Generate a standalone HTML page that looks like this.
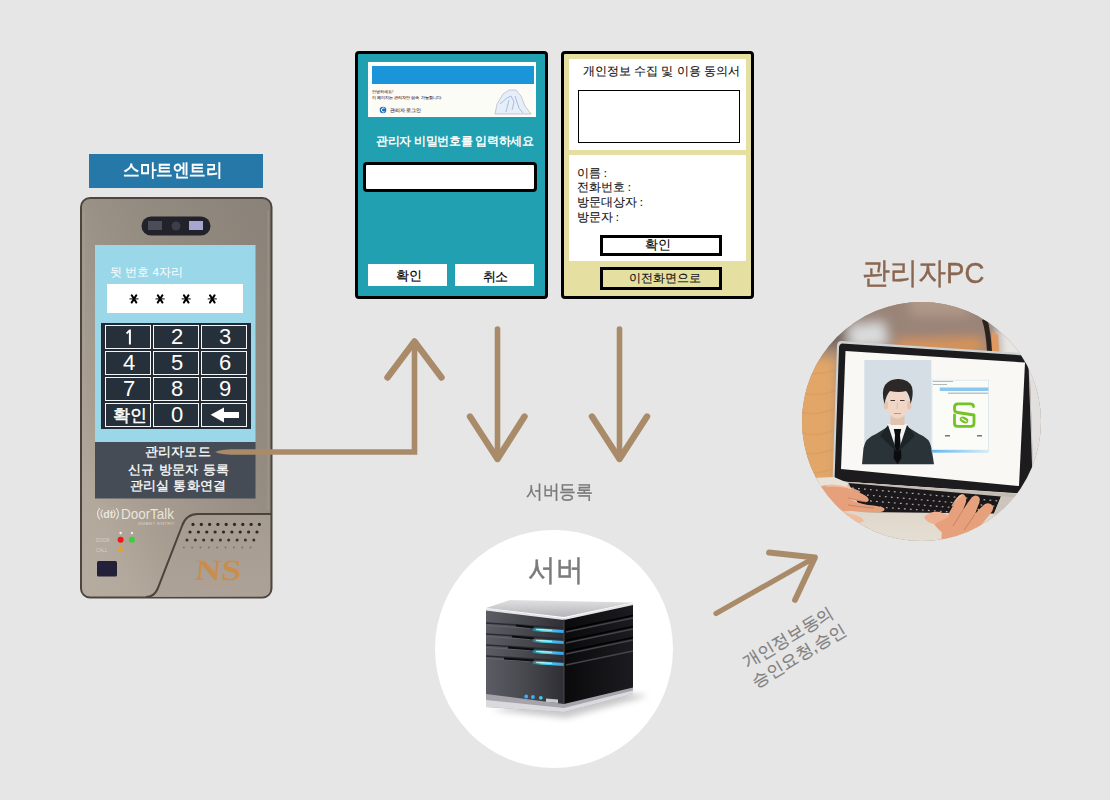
<!DOCTYPE html>
<html><head><meta charset="utf-8">
<style>
*{margin:0;padding:0;box-sizing:border-box}
html,body{width:1110px;height:800px;overflow:hidden;background:#e6e6e6;font-family:"Liberation Sans",sans-serif}
.a{position:absolute}
.t{position:absolute;white-space:nowrap;line-height:1}
.kb{position:absolute;width:46px;height:24px;border:1.5px solid #f4f6f6;background:#26303a;color:#fff;font-size:22px;text-align:center;line-height:22px;padding-left:2px}
</style></head><body>

<!-- label -->
<div class="a" style="left:89px;top:154px;width:174px;height:34px;background:#2578a7"></div>
<div class="t" style="left:122.5px;top:162.3px;font-size:17.5px;font-weight:bold;transform:scaleX(0.919);transform-origin:0 0;color:#fff">스마트엔트리</div>

<!-- device body -->
<svg class="a" style="left:0;top:0" width="300" height="620">
  <defs>
    <linearGradient id="dev" x1="1" y1="0" x2="0" y2="1">
      <stop offset="0" stop-color="#8a8278"/>
      <stop offset="0.37" stop-color="#948b81"/>
      <stop offset="0.73" stop-color="#a89e92"/>
      <stop offset="0.85" stop-color="#b2a89b"/>
      <stop offset="1" stop-color="#b6aca0"/>
    </linearGradient>
    <linearGradient id="devr" x1="0" y1="0" x2="0" y2="1">
      <stop offset="0" stop-color="#a59b90"/>
      <stop offset="1" stop-color="#aca297"/>
    </linearGradient>
  </defs>
  <rect x="81" y="198" width="190.5" height="399.5" rx="9" fill="url(#dev)" stroke="#4d463f" stroke-width="2"/>
  <path d="M84,210 L84,590 M268,210 L268,510" stroke="#b0a69a" stroke-width="1" opacity="0.5"/>
  <path d="M146,597 Q154,597 157.5,589 L182,526 Q186,514 198,514 L270,514 L270,588 Q270,596.5 262,596.5 Z" fill="url(#devr)"/>
  <path d="M146,597 Q154,597 157.5,589 L182,526 Q186,514 198,514 L271,514" fill="none" stroke="#4a423b" stroke-width="2"/>
  <!-- camera -->
  <rect x="141.5" y="216.5" width="69" height="19" rx="9.5" fill="#22222a"/>
  <rect x="148" y="221" width="14" height="9" fill="#4a4c5a"/>
  <circle cx="176" cy="226" r="4.5" fill="#3c3e48"/>
  <rect x="189" y="221" width="14" height="9" fill="#a8a6d0"/>
  <!-- screen -->
  <rect x="95" y="245" width="160.5" height="197" fill="#9ad7e8"/>
  <rect x="107" y="284" width="136" height="29" fill="#fff"/>
  <rect x="101" y="323" width="150" height="106" fill="#222b35"/>
  <rect x="95" y="442" width="160.5" height="56.5" fill="#454c55"/>
  <!-- speaker dots -->
  <g>
<circle cx="193.0" cy="524.4" r="1.6" fill="#2e2822"/><circle cx="201.3" cy="524.4" r="1.6" fill="#2e2822"/><circle cx="209.6" cy="524.4" r="1.6" fill="#2e2822"/><circle cx="217.9" cy="524.4" r="1.6" fill="#2e2822"/><circle cx="226.2" cy="524.4" r="1.6" fill="#2e2822"/><circle cx="234.5" cy="524.4" r="1.6" fill="#2e2822"/><circle cx="242.8" cy="524.4" r="1.6" fill="#2e2822"/><circle cx="251.1" cy="524.4" r="1.6" fill="#2e2822"/><circle cx="259.4" cy="524.4" r="1.6" fill="#2e2822"/>
<circle cx="190.0" cy="532" r="1.6" fill="#2e2822"/><circle cx="198.4" cy="532" r="1.6" fill="#2e2822"/><circle cx="206.8" cy="532" r="1.6" fill="#2e2822"/><circle cx="215.1" cy="532" r="1.6" fill="#2e2822"/><circle cx="223.5" cy="532" r="1.6" fill="#2e2822"/><circle cx="231.9" cy="532" r="1.6" fill="#2e2822"/><circle cx="240.2" cy="532" r="1.6" fill="#2e2822"/><circle cx="248.6" cy="532" r="1.6" fill="#2e2822"/><circle cx="257.0" cy="532" r="1.6" fill="#2e2822"/>
<circle cx="187.0" cy="540" r="1.5" fill="#3a332c"/><circle cx="195.3" cy="540" r="1.5" fill="#3a332c"/><circle cx="203.7" cy="540" r="1.5" fill="#3a332c"/><circle cx="212.0" cy="540" r="1.5" fill="#3a332c"/><circle cx="220.4" cy="540" r="1.5" fill="#3a332c"/><circle cx="228.7" cy="540" r="1.5" fill="#3a332c"/><circle cx="237.1" cy="540" r="1.5" fill="#3a332c"/><circle cx="245.4" cy="540" r="1.5" fill="#3a332c"/><circle cx="253.8" cy="540" r="1.5" fill="#3a332c"/>
<circle cx="183.8" cy="547.5" r="1.0" fill="#7d746a"/><circle cx="192.1" cy="547.5" r="1.0" fill="#7d746a"/><circle cx="200.5" cy="547.5" r="1.0" fill="#7d746a"/><circle cx="208.8" cy="547.5" r="1.0" fill="#7d746a"/><circle cx="217.2" cy="547.5" r="1.0" fill="#7d746a"/><circle cx="225.5" cy="547.5" r="1.0" fill="#7d746a"/><circle cx="233.9" cy="547.5" r="1.0" fill="#7d746a"/><circle cx="242.2" cy="547.5" r="1.0" fill="#7d746a"/><circle cx="250.6" cy="547.5" r="1.0" fill="#7d746a"/>
  </g>
  <!-- LEDs -->
  <circle cx="120.6" cy="533" r="1.2" fill="#eee"/>
  <circle cx="131.9" cy="533" r="1.2" fill="#eee"/>
  <circle cx="120.6" cy="539.8" r="3" fill="#f01818"/>
  <circle cx="131.9" cy="539.8" r="3" fill="#3ad03a"/>
  <path d="M120.6,545.5 L124,552 L117.2,552 Z" fill="#e8a030"/>
  <text x="96" y="542" font-size="4.5" fill="#d8d0c8" font-family="Liberation Sans">DOOR</text>
  <text x="96" y="552" font-size="4.5" fill="#d8d0c8" font-family="Liberation Sans">CALL</text>
  <rect x="97" y="561" width="20" height="15.5" rx="1.5" fill="#23213a"/>
  <!-- DoorTalk logo -->
  <g fill="none" stroke="#ebe5dc" stroke-width="1.1" stroke-linecap="round">
    <path d="M99.5,508.5 Q95.5,513.7 99.5,519"/>
    <path d="M102.5,510 Q99.5,513.7 102.5,517.5"/>
    <path d="M116.5,508.5 Q120.5,513.7 116.5,519"/>
    <path d="M113.5,510 Q116.5,513.7 113.5,517.5"/>
  </g>
  <text x="103.3" y="518" font-size="11" fill="#ebe5dc" font-family="Liberation Sans" font-weight="bold" textLength="10" lengthAdjust="spacingAndGlyphs">dt</text>
  <text x="121" y="519.3" font-size="14.5" fill="#ebe5dc" font-family="Liberation Sans" textLength="53" lengthAdjust="spacingAndGlyphs">DoorTalk</text>
  <text x="137.5" y="525" font-size="4.2" fill="#d4ccc2" font-family="Liberation Sans" textLength="37" lengthAdjust="spacingAndGlyphs">SMART ENTRY</text>
  <!-- NS logo -->
  <text x="194" y="579.6" font-size="29.5" font-weight="bold" fill="#c98e4e" font-family="Liberation Serif" textLength="46" lengthAdjust="spacingAndGlyphs" transform="skewX(-6) translate(61.5 0)">NS</text>
  <rect x="199" y="583" width="36" height="1.5" fill="#d09a60" opacity="0.7"/>
  <rect x="200" y="586.5" width="34" height="1" fill="#a8a8a8" opacity="0.5"/>
</svg>

<!-- screen contents -->
<div class="t" style="left:110px;top:267px;font-size:11.5px;color:#fff">뒷 번호 4자리</div>
<svg class="a" style="left:0;top:0" width="300" height="320"><g stroke="#000" stroke-linecap="round"><path d="M130.0,298.9 L138.0,298.9" stroke-width="1.4" stroke="#333"/><path d="M131.7,295.3 L136.3,302.5 M136.3,295.3 L131.7,302.5" stroke-width="2.1"/><path d="M156.1,298.9 L164.1,298.9" stroke-width="1.4" stroke="#333"/><path d="M157.8,295.3 L162.4,302.5 M162.4,295.3 L157.8,302.5" stroke-width="2.1"/><path d="M182.2,298.9 L190.2,298.9" stroke-width="1.4" stroke="#333"/><path d="M183.9,295.3 L188.5,302.5 M188.5,295.3 L183.9,302.5" stroke-width="2.1"/><path d="M208.3,298.9 L216.3,298.9" stroke-width="1.4" stroke="#333"/><path d="M210.0,295.3 L214.6,302.5 M214.6,295.3 L210.0,302.5" stroke-width="2.1"/></g></svg>

<div class="kb" style="left:105px;top:325px"></div>
<div class="kb" style="left:153px;top:325px">2</div>
<div class="kb" style="left:201px;top:325px">3</div>
<div class="kb" style="left:105px;top:351px">4</div>
<div class="kb" style="left:153px;top:351px">5</div>
<div class="kb" style="left:201px;top:351px">6</div>
<div class="kb" style="left:105px;top:377px">7</div>
<div class="kb" style="left:153px;top:377px">8</div>
<div class="kb" style="left:201px;top:377px">9</div>
<div class="kb" style="left:105px;top:403px;font-size:17px;line-height:23px;padding-left:3px;letter-spacing:-0.5px;-webkit-text-stroke:0.5px #fff">확인</div>
<div class="kb" style="left:153px;top:403px">0</div>
<div class="kb" style="left:201px;top:403px"></div>
<svg class="a" style="left:0;top:0" width="300" height="500">
  <path d="M210.6,414.8 L224,407.4 L224,412 L239,412 L239,418 L224,418 L224,422.6 Z" fill="#fff"/>
  <path d="M126,332.8 L129.3,329.6 L130.9,329.6 L130.9,344.6 L128.9,344.6 L128.9,332.6 L127,334.2 Z" fill="#fff"/>
</svg>

<div class="t" style="left:144.9px;top:445px;font-size:13px;color:#fff;letter-spacing:0.2px;-webkit-text-stroke:0.3px #fff">관리자모드</div>
<div class="t" style="left:128.2px;top:463.3px;font-size:13px;color:#fff;letter-spacing:0.3px;-webkit-text-stroke:0.3px #fff">신규 방문자 등록</div>
<div class="t" style="left:129.5px;top:479px;font-size:13px;color:#fff;letter-spacing:0.3px;-webkit-text-stroke:0.3px #fff">관리실 통화연결</div>


<!-- teal panel -->
<div class="a" style="left:355px;top:51px;width:193px;height:248px;background:#20a0b0;border:3px solid #000;border-radius:4px"></div>
<div class="a" style="left:368px;top:62px;width:168px;height:55px;background:#fdfdfb"></div>
<div class="a" style="left:372px;top:66px;width:162px;height:18px;background:#1a95da"></div>
<svg class="a" style="left:0;top:0" width="560" height="130">
  <rect x="372" y="86" width="161" height="30" fill="#fcfcf6"/>
  <text x="372" y="92.5" font-size="4.2" fill="#6a5a68" font-family="Liberation Sans" font-weight="bold">안녕하세요!</text>
  <text x="372" y="98.5" font-size="4.2" fill="#6a4a50" font-family="Liberation Sans" font-weight="bold">이 페이지는 관리자만 접속 가능합니다.</text>
  <circle cx="383" cy="110" r="3.3" fill="#1a70c0"/>
  <path d="M384.5,108.3 A2,2 0 1 0 384.5,111.7" fill="none" stroke="#fff" stroke-width="1"/>
  <text x="389.5" y="112" font-size="5" fill="#6a4a58" font-family="Liberation Sans" font-weight="bold">관리자 로그인</text>
  <path d="M495,114 L497,104 L503,94 L509,90 L516,90 L521,96 L525,106 L531,114 Z" fill="#e6eef8" stroke="#a8a8c8" stroke-width="0.6"/>
  <path d="M500,104 L507,98 L511,96 L514,102 L512,110 M506,112 L509,100 M515,96 L519,108 L523,113" fill="none" stroke="#98b0d8" stroke-width="0.8"/>
</svg>
<div class="t" style="left:376px;top:136.2px;font-size:11.5px;font-weight:bold;letter-spacing:-0.3px;color:#fff">관리자 비밀번호를 입력하세요</div>
<div class="a" style="left:363px;top:162px;width:174px;height:29.5px;background:#fff;border:3px solid #000;border-radius:4px"></div>
<div class="a" style="left:368px;top:264px;width:79px;height:22px;background:#fff"></div>
<div class="a" style="left:455px;top:264px;width:79px;height:22px;background:#fff"></div>
<div class="t" style="left:395.5px;top:270px;font-size:12.5px;color:#000;-webkit-text-stroke:0.2px #000">확인</div>
<div class="t" style="left:482.8px;top:270.6px;font-size:12.5px;color:#000;letter-spacing:-1px;-webkit-text-stroke:0.2px #000">취소</div>

<!-- beige panel -->
<div class="a" style="left:561px;top:51px;width:193px;height:248px;background:#e5e0a2;border:3px solid #000;border-radius:4px"></div>
<div class="a" style="left:569px;top:59px;width:177px;height:91px;background:#fff"></div>
<div class="a" style="left:569px;top:155px;width:177px;height:106px;background:#fff"></div>
<div class="t" style="left:583px;top:66.2px;font-size:11.5px;color:#111;-webkit-text-stroke:0.12px #111">개인정보 수집 및 이용 동의서</div>
<div class="a" style="left:578px;top:90px;width:162px;height:53px;border:1px solid #000"></div>
<div class="t" style="left:576.5px;top:167.8px;font-size:11.5px;color:#111;-webkit-text-stroke:0.1px #111">이름 :</div>
<div class="t" style="left:576.5px;top:181.5px;font-size:11.5px;color:#111;-webkit-text-stroke:0.1px #111">전화번호 :</div>
<div class="t" style="left:576.5px;top:197.4px;font-size:11.5px;color:#111;-webkit-text-stroke:0.1px #111">방문대상자 :</div>
<div class="t" style="left:576.5px;top:212.3px;font-size:11.5px;color:#111;-webkit-text-stroke:0.1px #111">방문자 :</div>
<div class="a" style="left:600px;top:235px;width:122px;height:21px;background:#fff;border:3px solid #000"></div>
<div class="a" style="left:600px;top:267px;width:122px;height:22.5px;background:#e5e0a2;border:3px solid #000"></div>
<div class="t" style="left:645px;top:239px;font-size:12.5px;color:#000;letter-spacing:-0.5px;-webkit-text-stroke:0.12px #000">확인</div>
<div class="t" style="left:629px;top:272.5px;font-size:11.5px;color:#111;-webkit-text-stroke:0.12px #111">이전화면으로</div>

<!-- arrows -->
<svg class="a" style="left:0;top:0" width="1110" height="800">
  <path d="M215,452 Q222,449.2 232,449.2 L232,454.8 Q222,454.8 215,452 Z" fill="#a98b6a"/>
  <g fill="none" stroke="#a98b6a" stroke-width="5.6" stroke-linecap="round" stroke-linejoin="round">
    <path d="M231,452 L414.5,452 L414.5,341.5" stroke-linecap="butt" stroke-linejoin="miter"/>
    <path d="M497.5,329 L497.5,459"/>
    <path d="M619.5,329 L619.5,459"/>
  </g>
  <path d="M716,613.5 L814,558" fill="none" stroke="#a98b6a" stroke-width="5.2" stroke-linecap="round"/>
  <g fill="none" stroke="#a98b6a" stroke-width="6.4" stroke-linecap="round" stroke-linejoin="round">
    <path d="M387.5,377.5 L414.5,341.5 L441.5,377.5"/>
    <path d="M470,416.5 L497.5,459 L524.5,416.5"/>
    <path d="M592,416.5 L619.5,459 L647,416.5"/>
  </g>
  <path d="M769,552.5 L815,557.5 L795,600" fill="none" stroke="#a98b6a" stroke-width="5.8" stroke-linecap="round" stroke-linejoin="round"/>
</svg>
<div class="t" style="left:525.7px;top:482.5px;font-size:18.5px;color:#7a7a7a;-webkit-text-stroke:0.4px #7a7a7a;transform:scaleX(0.881);transform-origin:0 0">서버등록</div>

<!-- server circle -->
<div class="a" style="left:434.5px;top:530px;width:238px;height:238px;border-radius:50%;background:#fff"></div>

<svg class="a" style="left:0;top:0" width="1110" height="800">
  <defs>
    <linearGradient id="sfront" x1="0" y1="0" x2="1" y2="0">
      <stop offset="0" stop-color="#5c5c64"/>
      <stop offset="0.5" stop-color="#48484f"/>
      <stop offset="1" stop-color="#2e2e34"/>
    </linearGradient>
    <linearGradient id="sside" x1="0" y1="0" x2="1" y2="0">
      <stop offset="0" stop-color="#0a0a0c"/>
      <stop offset="1" stop-color="#1c1c20"/>
    </linearGradient>
    <linearGradient id="stop" x1="0" y1="0" x2="0" y2="1">
      <stop offset="0" stop-color="#e0e0e2"/>
      <stop offset="1" stop-color="#b4b4b8"/>
    </linearGradient>
    <linearGradient id="led" x1="0" y1="0" x2="1" y2="0">
      <stop offset="0" stop-color="#2a6a80"/>
      <stop offset="0.3" stop-color="#50e0e8"/>
      <stop offset="1" stop-color="#3aa0f0"/>
    </linearGradient>
    <filter id="blur2" x="-20%" y="-50%" width="140%" height="200%"><feGaussianBlur stdDeviation="3"/></filter>
  </defs>
  <!-- shadow -->
  <path d="M492,710 L566,718 L648,696 L604,690 Z" fill="#b0b0b0" filter="url(#blur2)" opacity="0.7"/>
  <!-- base plinth -->
  <path d="M486,693 L564,703 L633,686.5 L633,694 L564,712 L486,707 Z" fill="#a4a4aa"/>
  <path d="M486,700 L564,708 L633,690.5 L633,694 L564,712 L486,707 Z" fill="#dadade"/>
  <!-- front face -->
  <path d="M486,610 L564,619 L564,704 L486,694 Z" fill="url(#sfront)"/>
  <!-- side face -->
  <path d="M564,619 L633,604 L633,687.5 L564,704 Z" fill="url(#sside)"/>
  <!-- top -->
  <path d="M486,608 L510,600 L633,602.5 L564,617 Z" fill="url(#stop)"/>
  <path d="M486,609.5 L564,619 L633,604" fill="none" stroke="#e4e4e6" stroke-width="2.2"/>
  <!-- front grooves -->
  <g stroke="#2a2a30" stroke-width="1.6">
    <path d="M486,623 L564,628"/>
    <path d="M486,634 L564,639"/>
    <path d="M486,645 L564,650"/>
    <path d="M486,656 L564,661"/>
  </g>
  <g stroke="#6a6a72" stroke-width="1" opacity="0.8">
    <path d="M486,625.5 L530,628.3"/>
    <path d="M486,636.5 L530,639.3"/>
    <path d="M486,647.5 L530,650.3"/>
    <path d="M486,658.5 L530,661.3"/>
  </g>
  <g stroke="#0c0c10" stroke-width="2">
    <path d="M516,625.5 L534,627.5"/>
    <path d="M512,636.5 L534,638.5"/>
    <path d="M508,647.5 L534,649.5"/>
    <path d="M504,658.5 L534,660.5"/>
  </g>
  <g stroke="url(#led)" stroke-width="2.8">
    <path d="M532.5,629.5 L564,631.5"/>
    <path d="M532.5,640.5 L564,642.5"/>
    <path d="M532.5,651.5 L564,653.5"/>
    <path d="M532.5,662.5 L564,664.5"/>
  </g>
  <g stroke="#d8fcff" stroke-width="1" opacity="0.8">
    <path d="M536,629.3 L552,630.3"/>
    <path d="M536,640.3 L552,641.3"/>
    <path d="M536,651.3 L552,652.3"/>
    <path d="M536,662.3 L552,663.3"/>
  </g>
  <!-- side grooves -->
  <g stroke="#44444a" stroke-width="1.3">
    <path d="M566,632 L633,618"/>
    <path d="M566,643 L633,629"/>
    <path d="M566,654 L633,640"/>
    <path d="M566,665 L633,651"/>
  </g>
  <g stroke="#000" stroke-width="1.5">
    <path d="M566,629.5 L633,615.5"/>
    <path d="M566,640.5 L633,626.5"/>
    <path d="M566,651.5 L633,637.5"/>
  </g>
  <path d="M564,619 L564,704" stroke="#555" stroke-width="0.8"/>
  <!-- leds -->
  <circle cx="526.2" cy="696.5" r="1.9" fill="#3ab0f8"/>
  <circle cx="532.9" cy="697" r="1.9" fill="#3ab0f8"/>
  <circle cx="540.8" cy="697.8" r="1.9" fill="#40c8e8"/>
  <path d="M546,698.5 L558,699.5 L558,703 L546,702 Z" fill="#c8c8d0"/>
</svg>

<div class="t" style="left:528.4px;top:554.8px;font-size:29.75px;color:#7b7b7b;-webkit-text-stroke:0.5px #7b7b7b;transform:scaleX(0.925);transform-origin:0 0">서버</div>

<!-- pc circle -->
<svg class="a" style="left:0;top:0" width="1110" height="800">
  <defs>
    <clipPath id="pcclip"><circle cx="921.5" cy="421.5" r="119.5"/></clipPath>
    <filter id="bl6" x="-50%" y="-50%" width="200%" height="200%"><feGaussianBlur stdDeviation="6"/></filter>
    <filter id="bl3" x="-50%" y="-50%" width="200%" height="200%"><feGaussianBlur stdDeviation="3"/></filter>
    <filter id="bl1" x="-50%" y="-50%" width="200%" height="200%"><feGaussianBlur stdDeviation="0.7"/></filter>
    <linearGradient id="wood" x1="0" y1="0" x2="0" y2="1">
      <stop offset="0" stop-color="#e8a460"/>
      <stop offset="1" stop-color="#d49858"/>
    </linearGradient>
    <linearGradient id="base" x1="0" y1="0" x2="0" y2="1">
      <stop offset="0" stop-color="#d8cfc2"/>
      <stop offset="1" stop-color="#e6dfd4"/>
    </linearGradient>
    <linearGradient id="appbar" x1="0" y1="0" x2="1" y2="0">
      <stop offset="0" stop-color="#60b8f0"/>
      <stop offset="1" stop-color="#d8ecf8"/>
    </linearGradient>
  </defs>
  <g clip-path="url(#pcclip)">
    <rect x="800" y="300" width="245" height="245" fill="#9c8679"/>
    <g filter="url(#bl6)">
      <rect x="780" y="280" width="280" height="62" fill="#9a8478"/>
      <rect x="910" y="290" width="60" height="26" fill="#b09888"/>
      <rect x="790" y="305" width="55" height="40" fill="#6e625a"/>
      <path d="M848,326 L884,322 L888,346 L850,348 Z" fill="#dadddd"/>
      <path d="M896,340 L982,338 L984,354 L896,354 Z" fill="#dc9454"/>
      <rect x="780" y="356" width="58" height="150" fill="#e2a668"/>
      <rect x="998" y="318" width="60" height="60" fill="#e8e6e4"/>
    </g>
    <g filter="url(#bl1)">
      <path d="M982,320 Q986,332 987,352 L992,352 Q991,332 987,318 Z" fill="#2a201c"/>
      <path d="M992,332 L998,335 L999,352 L992,352 Z" fill="#e09a60"/>
    </g>
    <g stroke="#c88a50" stroke-width="1.5" opacity="0.22" fill="none" filter="url(#bl1)">
      <path d="M800,372 Q815,376 836,370"/>
      <path d="M800,392 Q818,398 836,390"/>
      <path d="M800,412 Q816,416 834,409"/>
      <path d="M800,432 Q818,438 834,430"/>
      <path d="M800,452 Q816,456 834,449"/>
      <path d="M800,470 Q818,476 834,468"/>
    </g>
    <!-- laptop lid (silver rim + bezel) -->
    <path d="M841,341 Q837,341.5 837,346 L832.5,482 L1022,495 L1034,494 L1029,362 L1023,353 Z" fill="#cfd2d2"/>
    <path d="M842,343.5 Q839,344 839,348 L834.5,481 L1021,493.5 L1033,493 L1028.5,364 L1024,355.5 Z" fill="#1c1b1d"/>
    <!-- screen -->
    <path d="M845.5,351 L1025,362.5 L1019,486 L841,469 Z" fill="#f9f8f5"/>
    <!-- right side beyond bezel -->
    <path d="M1027,345 L1045,345 L1045,500 L1034,500 L1029.5,362 Z" fill="#e2e0de"/>
    <!-- base / palm rest -->
    <path d="M800,484 L834,481 L1022,494 L1045,493 L1045,545 L800,545 Z" fill="url(#base)"/>
    <path d="M834,481 L1022,494 L1021,498 L846,486 Z" fill="#c4bcb2"/>
    <path d="M812,478 L834,477 L848,483 L846,492 L818,494 Z" fill="#e8e2da"/>
    <!-- keyboard -->
    <path d="M848.5,483 L1001,496.5 L994,513.5 L862,512 Z" fill="#1a181a"/>
    <g stroke="#d0c8c0" stroke-width="1.2" opacity="0.85" stroke-dasharray="1.8 4.2">
      <path d="M852,488 L999,501"/>
      <path d="M855,494 L998,506.5"/>
      <path d="M858,500 L997,511"/>
      <path d="M862,506 L996,515"/>
    </g>
    <path d="M1001,496.5 L1016,497.5 L1012,520 L994,513.5 Z" fill="#cbc5bd"/>
    <!-- photo -->
    <rect x="864.3" y="360" width="67" height="104.2" fill="#d4dee4"/>
    <path d="M862,464.2 L863.5,448 Q865,438 876,434 L889,426 L906,426 L919,434 Q930,438 931.5,448 L934,464.2 Z" fill="#2a3438"/>
    <path d="M887,424 L908,424 L897.5,458 Z" fill="#f4f4f2"/>
    <path d="M893.8,429 L901.2,429 L900,435 L901.5,458 L897.5,464.2 L893.5,458 L895,435 Z" fill="#0a0c0e"/>
    <path d="M888,425 L897,452 L880,436 Z" fill="#1c2428"/>
    <path d="M907,425 L898,452 L915,436 Z" fill="#1c2428"/>
    <rect x="890.5" y="412" width="14" height="13" fill="#e2c2ae"/>
    <ellipse cx="897.5" cy="403" rx="11.5" ry="15.5" fill="#efd6c6"/>
    <ellipse cx="885.8" cy="405" rx="2.2" ry="4.2" fill="#e6c4ae"/>
    <ellipse cx="909.2" cy="405" rx="2.2" ry="4.2" fill="#e6c4ae"/>
    <path d="M884.5,404 Q881,392 885,385 Q890,378.5 899,379 Q909,379.5 912,387 Q914,395 910.5,404 Q910,395 906,391 Q899,393 890,391 Q886,395 884.5,404 Z" fill="#2c2828"/>
    <path d="M890.5,400.5 L895,400.5 M900,400.5 L904.5,400.5" stroke="#4a3a34" stroke-width="1.1"/>
    <path d="M897.5,403 L897,409" stroke="#d8b8a4" stroke-width="0.8"/>
    <path d="M894,413.5 L901,413.5" stroke="#c89080" stroke-width="1"/>
    <!-- app window -->
    <rect x="932" y="380.2" width="56.5" height="72" fill="#fbfbf8" stroke="#d0e0ec" stroke-width="0.7"/>
    <rect x="939.8" y="387.5" width="48.5" height="3.5" fill="#88c8ec"/>
    <rect x="948" y="392.5" width="40" height="1.5" fill="#b8c4cc"/>
    <g fill="#9aa" opacity="0.8"><rect x="933" y="381" width="20" height="1"/><rect x="933" y="384" width="14" height="1"/></g>
    <rect x="932" y="449.8" width="56.5" height="2.8" fill="url(#appbar)"/>
    <g fill="none" stroke="#74c224" stroke-width="2.8" stroke-linecap="round" stroke-linejoin="round">
      <path d="M973.5,406.5 Q973.5,403.8 970,403.8 L958,403.8 Q954.5,403.8 954.5,407.5 L954.5,409.5 Q954.5,412 957.5,412.5 L974,415 L974,423.5 Q974,426.3 971,426.3 L957.5,426.3 Q954.5,426.3 954.5,423.5 L954.5,415"/>
    </g>
    <ellipse cx="964" cy="420" rx="4.5" ry="3" fill="#74c224" transform="rotate(25 964 420)"/>
    <path d="M961.5,418.5 L966.5,421.5" stroke="#fff" stroke-width="1.2"/>
    <rect x="945" y="435" width="5" height="1.5" fill="#777"/>
    <rect x="977" y="435" width="5" height="1.5" fill="#777"/>
    <!-- left hand -->
    <g fill="#e6a07c">
      <path d="M812,490 Q826,482 842,486 Q856,490 866,496 Q871,500 867,502 Q860,502 852,499 L848,498 Q856,503 868,505 Q880,506 884,508 Q886,511 880,512 Q866,513 852,511 Q842,511 836,513 Q826,516 812,510 Z"/>
      <path d="M838,511 Q850,513 858,516 Q865,519 863,522 Q857,524 848,521 Q840,518 834,514 Z" fill="#efbc9c"/>
    </g>
    <path d="M826,486 Q844,484 860,492" stroke="#f6c8a8" stroke-width="1.6" fill="none" opacity="0.8"/>
    <path d="M848,498 Q856,500 866,502 M848,505 Q860,507 874,508" stroke="#c8785a" stroke-width="0.8" fill="none"/>
    <!-- right hand -->
    <g fill="#e6a07c">
      <path d="M942,545 Q940,530 946,518 Q952,508 956,500 Q959,494 963,494 Q967,496 966,502 L963,510 Q968,502 972,497 Q976,494 979,497 Q981,500 978,506 L975,514 Q980,508 985,504 Q990,502 993,506 Q994,510 990,514 L982,524 Q976,536 968,545 Z"/>
      <path d="M924,517 Q930,511 940,512 L950,516 Q944,522 934,524 Q927,523 924,517 Z" fill="#eeb090"/>
      <path d="M934,524 Q944,520 950,516 L946,535 Q940,532 934,524 Z"/>
    </g>
    <path d="M952,506 Q957,497 962,495" stroke="#f6c8a8" stroke-width="1.4" fill="none" opacity="0.8"/>
    <path d="M963,510 Q958,518 953,526 M975,514 Q970,522 964,530" stroke="#c8785a" stroke-width="0.8" fill="none"/>
  </g>
</svg>
<div class="t" style="left:861.5px;top:258px;font-size:29.5px;color:#8a6650;-webkit-text-stroke:0.4px #8a6650;transform:scaleX(0.934);transform-origin:0 0">관리자PC</div>

<!-- rotated text -->
<div class="t" id="rot" style="left:737px;top:655.5px;font-size:17px;line-height:21px;color:#7e7e7e;-webkit-text-stroke:0.2px #7e7e7e;text-align:center;transform:rotate(-31deg);transform-origin:0 0">개인정보동의<br>승인요청,승인</div>

</body></html>
